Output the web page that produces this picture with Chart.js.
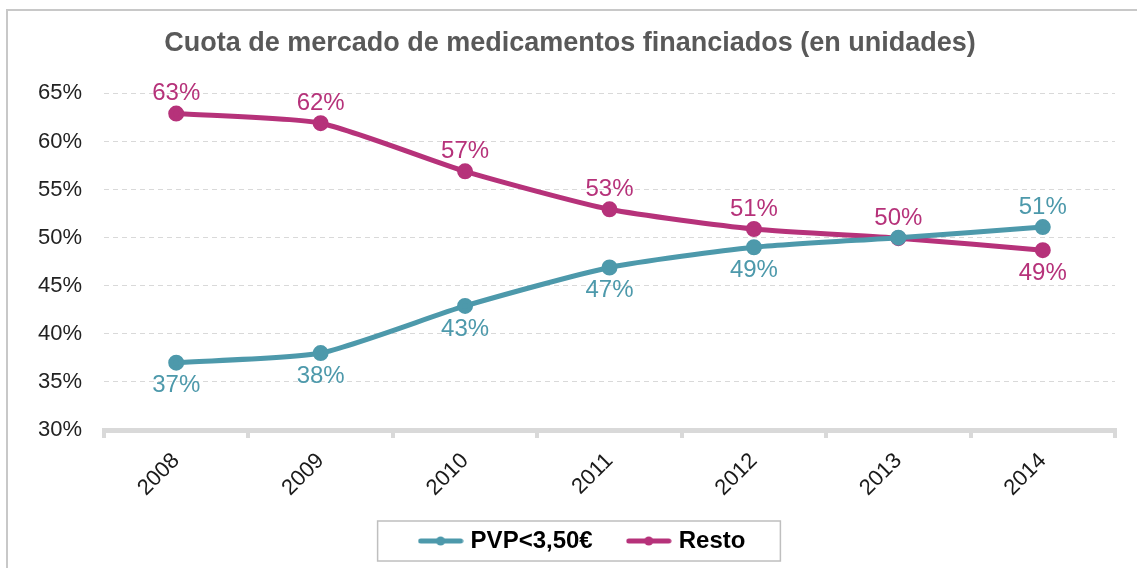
<!DOCTYPE html>
<html>
<head>
<meta charset="utf-8">
<script src="https://cdn.jsdelivr.net/npm/chart.js@4.4.0/dist/chart.umd.min.js"></script>
<style>
  html, body { margin: 0; padding: 0; background: #fff; }
  #wrap { position: relative; width: 1137px; height: 568px; }
</style>
</head>
<body>
<div id="wrap"><canvas id="cuotaChart"></canvas></div>

<script>
// values (% of units)
const years = ['2008', '2009', '2010', '2011', '2012', '2013', '2014'];
const pvpBaratos = [37.0, 38.0, 42.9, 46.9, 49.0, 50.0, 51.1];
const resto = [62.9, 61.9, 56.9, 52.95, 50.9, 49.95, 48.7];
const yTicks = [30, 35, 40, 45, 50, 55, 60, 65];
const seriesNames = ['PVP<3,50€', 'Resto'];

const colorPvp = '#4d99ab';
const colorResto = '#b6327a';
const fontName = '"Liberation Sans", Arial, sans-serif';

// little "line with a dot" marker for the legend
function legendMarker(color) {
    const c = document.createElement('canvas');
    c.width = 46; c.height = 12;
    const g = c.getContext('2d');
    g.strokeStyle = color;
    g.lineWidth = 5;
    g.lineCap = 'round';
    g.beginPath(); g.moveTo(3, 6); g.lineTo(43, 6); g.stroke();
    g.fillStyle = color;
    g.beginPath(); g.arc(23, 6, 4.5, 0, Math.PI * 2); g.fill();
    return c;
}

// white background + grey frame on the left and top
const frame = {
    id: 'frame',
    beforeDraw(chart) {
        const ctx = chart.ctx;
        ctx.save();
        ctx.fillStyle = '#fff';
        ctx.fillRect(0, 0, chart.width, chart.height);
        ctx.strokeStyle = '#c8c8c8';
        ctx.lineWidth = 2;
        ctx.beginPath();
        ctx.moveTo(7, chart.height);
        ctx.lineTo(7, 10);
        ctx.lineTo(chart.width, 10);
        ctx.stroke();
        ctx.restore();
    }
};

// the % labels next to each point
const valueLabels = {
    id: 'valueLabels',
    afterDatasetsDraw(chart) {
        const ctx = chart.ctx;
        const sets = chart.data.datasets;
        ctx.save();
        ctx.font = '24px ' + fontName;
        ctx.textAlign = 'center';
        ctx.textBaseline = 'middle';
        sets.forEach(function(ds, di) {
            const other = sets[1 - di];
            chart.getDatasetMeta(di).data.forEach(function(pt, i) {
                const v = ds.data[i], o = other.data[i];
                let above = v > o;
                if (Math.round(v) === Math.round(o)) {
                    if (di === 0) return; // same value, shown once
                    above = true;
                }
                ctx.fillStyle = ds.borderColor;
                ctx.fillText(Math.round(v) + '%', pt.x, above ? pt.y - 20 : pt.y + 23);
            });
        });
        ctx.restore();
    }
};

// nudge the legend (it sits off-centre in the original) and box it
const legendBox = {
    id: 'legendBox',
    afterUpdate(chart) {
        const lg = chart.legend;
        const dx = 14, dy = -13;
        lg.left += dx; lg.right += dx;
        lg.top += dy; lg.bottom += dy;
        (lg.legendHitBoxes || []).forEach(function(h) { h.left += dx; h.top += dy; });
    },
    afterDraw(chart) {
        const boxes = chart.legend.legendHitBoxes;
        if (!boxes || !boxes.length) return;
        let l = Infinity, r = -Infinity, t = Infinity, b = -Infinity;
        boxes.forEach(function(h) {
            l = Math.min(l, h.left); r = Math.max(r, h.left + h.width);
            t = Math.min(t, h.top); b = Math.max(b, h.top + h.height);
        });
        const ctx = chart.ctx;
        ctx.save();
        ctx.strokeStyle = '#bfbfbf';
        ctx.lineWidth = 1.5;
        ctx.strokeRect(l - 45, (t + b) / 2 - 20, (r - l) + 80, 40);
        ctx.restore();
    }
};

const ctx = document.getElementById('cuotaChart').getContext('2d');
const chart = new Chart(ctx, {
    type: 'line',
    data: {
        labels: years,
        datasets: [{
            label: seriesNames[0],
            data: pvpBaratos,
            borderColor: colorPvp,
            backgroundColor: colorPvp,
            borderWidth: 5,
            pointRadius: 5.5,
            pointHoverRadius: 5.5,
            tension: 0.2
        }, {
            label: seriesNames[1],
            data: resto,
            borderColor: colorResto,
            backgroundColor: colorResto,
            borderWidth: 5,
            pointRadius: 5.5,
            pointHoverRadius: 5.5,
            tension: 0.2
        }]
    },
    options: {
        responsive: true,
        maintainAspectRatio: false,
        animation: false,
        layout: { padding: { left: 25, right: 22, top: 0, bottom: -8 } },
        plugins: {
            title: {
                display: true,
                text: 'Cuota de mercado de medicamentos financiados (en unidades)',
                color: '#595959',
                font: { family: fontName, size: 27, weight: 'bold' },
                padding: { top: 27, bottom: 34 }
            },
            legend: {
                position: 'bottom',
                labels: {
                    color: '#000',
                    font: { family: fontName, size: 24, weight: 'bold' },
                    usePointStyle: true,
                    pointStyleWidth: 36,
                    padding: 38,
                    generateLabels: function(chart) {
                        return chart.data.datasets.map(function(ds, i) {
                            return {
                                text: ds.label,
                                pointStyle: legendMarker(ds.borderColor),
                                fillStyle: ds.borderColor,
                                strokeStyle: ds.borderColor,
                                lineWidth: 0,
                                hidden: false,
                                datasetIndex: i
                            };
                        });
                    }
                }
            },
            tooltip: { enabled: false }
        },
        scales: {
            x: {
                offset: true,
                afterFit: function(scale) { scale.height = 74; },
                border: { display: true, color: '#d9d9d9', width: 5 },
                grid: {
                    offset: true,
                    drawOnChartArea: false,
                    drawTicks: true,
                    tickLength: 8,
                    color: '#d9d9d9',
                    lineWidth: 4
                },
                ticks: {
                    color: '#1a1a1a',
                    font: { family: fontName, size: 22 },
                    minRotation: 45,
                    maxRotation: 45,
                    padding: 10
                }
            },
            y: {
                min: 30,
                max: 65,
                afterFit: function(scale) { scale.width = 79; },
                afterBuildTicks: function(scale) {
                    scale.ticks = yTicks.map(function(v) { return { value: v }; });
                },
                border: { display: false, dash: [5, 4] },
                grid: {
                    drawTicks: false,
                    lineWidth: 1,
                    color: function(c) { return c.tick && c.tick.value === 30 ? 'rgba(0,0,0,0)' : '#d9d9d9'; }
                },
                ticks: {
                    color: '#222',
                    font: { family: fontName, size: 22 },
                    padding: 22,
                    callback: function(v) { return v + '%'; }
                }
            }
        }
    },
    plugins: [frame, valueLabels, legendBox]
});
</script>
</body>
</html>
